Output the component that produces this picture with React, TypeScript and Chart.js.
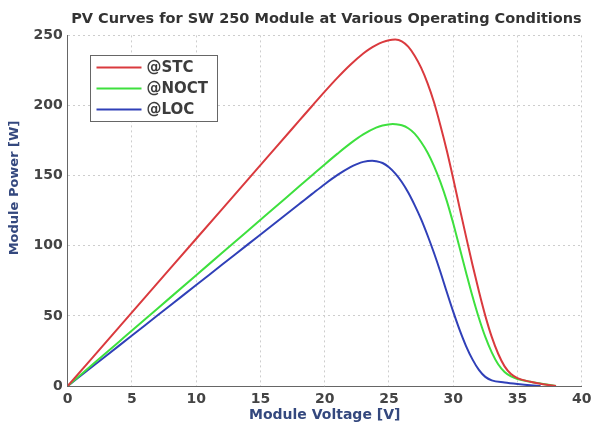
import React, { useEffect, useRef } from 'react';
import { Chart, registerables } from 'chart.js';

Chart.register(...registerables);

// ---- data ----
const seriesNames = ['@STC', '@NOCT', '@LOC'];
const seriesColors = ['#da3a3e', '#3ee03e', '#3040b8'];

const stcV = [0, 2, 4, 6, 8, 10, 12, 14, 16, 18, 19, 20, 21, 22, 23, 23.5, 24, 24.5, 25, 25.5, 26, 26.5, 27, 27.5, 28, 28.5, 29, 29.5, 30, 30.5, 31, 31.5, 32, 32.5, 33, 33.5, 34, 34.5, 35, 36, 37, 38];
const stcP = [0, 21, 42, 63, 84, 105, 126, 147, 168, 189, 199.5, 209.9, 219.9, 229.1, 237.1, 240.4, 243.1, 245.2, 246.6, 247, 245.8, 242, 235.5, 227, 216, 202.5, 186, 168, 148, 127, 106.5, 86.5, 67.5, 50, 35, 23, 14, 8.5, 5.6, 3, 1.2, 0];

const noctV = [0, 2, 4, 6, 8, 10, 12, 14, 16, 18, 19, 20, 21, 22, 23, 24, 24.5, 25.3, 25.5, 26, 26.5, 27, 27.5, 28, 28.5, 29, 29.5, 30, 30.5, 31, 31.5, 32, 32.5, 33, 33.5, 34, 34.5, 35, 36, 37, 38];
const noctP = [0, 15.8, 31.6, 47.4, 63.2, 79, 94.8, 110.6, 126.4, 142.2, 150.1, 158, 165.7, 173, 179.4, 184.2, 185.7, 186.8, 186.7, 185.9, 183.8, 180, 174, 166.5, 157, 145.5, 132, 116, 98.5, 81, 64, 48.5, 35, 24, 15.5, 10, 6.8, 5, 3, 1.4, 0];

const locV = [0, 2, 4, 6, 8, 10, 12, 14, 16, 18, 18.4, 19, 20, 21, 22, 22.5, 23, 23.7, 24, 24.5, 25, 25.5, 26, 26.5, 27, 27.5, 28, 28.5, 29, 29.5, 30, 30.5, 31, 31.5, 32, 32.5, 33, 34, 35, 36, 36.8];
const locP = [0, 14.4, 28.8, 43.2, 57.6, 72, 86.4, 100.8, 115.2, 129.6, 132.5, 136.8, 143.9, 150.5, 156.1, 158.2, 159.8, 160.6, 160.3, 159, 156, 151.5, 145.5, 138, 129, 119, 107.5, 95, 81.5, 67, 53, 40, 28.5, 19, 11.5, 6.5, 4, 2.5, 1.4, 0.5, 0];

const titleText = 'PV Curves for SW 250 Module at Various Operating Conditions';
const xTitle = 'Module Voltage [V]';
const yTitle = 'Module Power [W]';
const xMin = 0, xMax = 40, xStep = 5;
const yMin = 0, yMax = 250, yStep = 50;

const FONT = '"DejaVu Sans", Verdana, sans-serif';

const legendBoxPlugin = {
  id: 'legendBoxPlugin',
  afterDraw(chart: any) {
    const ctx = chart.ctx;
    const { left, top } = chart.chartArea;
    const x0 = Math.round(left + 22) + 0.5;
    const y0 = Math.round(top + 19.5) + 0.5;
    const w = 127, h = 66;
    ctx.save();
    ctx.fillStyle = '#ffffff';
    ctx.fillRect(x0, y0, w, h);
    ctx.strokeStyle = '#666';
    ctx.lineWidth = 1;
    ctx.strokeRect(x0, y0, w, h);
    chart.data.datasets.forEach((ds: any, i: number) => {
      const y = y0 + 12 + i * 21;
      ctx.strokeStyle = ds.borderColor;
      ctx.lineWidth = 2;
      ctx.beginPath();
      ctx.moveTo(x0 + 6, y);
      ctx.lineTo(x0 + 51, y);
      ctx.stroke();
      ctx.fillStyle = '#3c3c3c';
      ctx.font = `bold 15px ${FONT}`;
      ctx.textBaseline = 'middle';
      ctx.textAlign = 'left';
      ctx.fillText(ds.label, x0 + 56, y + 1);
    });
    ctx.restore();
  },
};

const yTitlePlugin = {
  id: 'yTitlePlugin',
  afterDraw(chart: any) {
    const ctx = chart.ctx;
    ctx.save();
    ctx.translate(15, 188);
    ctx.rotate(-Math.PI / 2);
    ctx.fillStyle = '#34487e';
    ctx.font = `bold 13px ${FONT}`;
    ctx.textAlign = 'center';
    ctx.textBaseline = 'middle';
    ctx.fillText(yTitle, 0, 0);
    ctx.restore();
  },
};

export default function App() {
  const canvasRef = useRef<HTMLCanvasElement | null>(null);

  useEffect(() => {
    document.body.style.margin = '0';
    const canvas = canvasRef.current;
    if (!canvas) return;
    const mk = (vs: number[], ps: number[]) => vs.map((v, i) => ({ x: v, y: ps[i] }));
    const chart = new Chart(canvas, {
      type: 'line',
      data: {
        datasets: [
          { label: seriesNames[0], data: mk(stcV, stcP), borderColor: seriesColors[0] },
          { label: seriesNames[1], data: mk(noctV, noctP), borderColor: seriesColors[1] },
          { label: seriesNames[2], data: mk(locV, locP), borderColor: seriesColors[2] },
        ].map((d) => ({
          ...d,
          borderWidth: 2,
          pointRadius: 0,
          fill: false,
          cubicInterpolationMode: 'monotone' as const,
        })),
      },
      options: {
        animation: false,
        responsive: false,
        maintainAspectRatio: false,
        layout: { padding: { left: 0, right: 11.3, top: 0, bottom: 0 } },
        plugins: {
          legend: { display: false },
          tooltip: { enabled: false },
          title: {
            display: true,
            text: titleText,
            align: 'end',
            color: '#333',
            font: { family: FONT, size: 14.5, weight: 'bold' },
            padding: { top: 11, bottom: 7 },
          },
        },
        scales: {
          x: {
            type: 'linear',
            min: xMin,
            max: xMax,
            afterFit: (s: any) => { s.height = 39; s.paddingLeft = 0; s.paddingRight = 0; },
            ticks: {
              stepSize: xStep,
              color: '#444',
              padding: 5,
              maxRotation: 0,
              font: { family: FONT, size: 14, weight: 'bold' },
            },
            grid: { color: '#cdcdcd', drawTicks: false, lineWidth: 1 },
            border: { display: true, color: '#666', width: 1, dash: [2, 3] },
            title: {
              display: true,
              text: xTitle,
              color: '#34487e',
              font: { family: FONT, size: 14, weight: 'bold' },
              padding: { top: 0, bottom: 1 },
            },
          },
          y: {
            type: 'linear',
            min: yMin,
            max: yMax,
            afterFit: (s: any) => { s.width = 67.7; s.paddingTop = 0; s.paddingBottom = 0; },
            ticks: {
              stepSize: yStep,
              color: '#444',
              padding: 5,
              font: { family: FONT, size: 14, weight: 'bold' },
            },
            grid: { color: '#cdcdcd', drawTicks: false, lineWidth: 1 },
            border: { display: true, color: '#666', width: 1, dash: [2, 3] },
          },
        },
      },
      plugins: [legendBoxPlugin, yTitlePlugin],
    } as any);
    return () => chart.destroy();
  }, []);

  return (
    <div style={{ width: 593, height: 425, background: '#fff' }}>
      <canvas ref={canvasRef} width={593} height={425} style={{ display: 'block' }} />
    </div>
  );
}
